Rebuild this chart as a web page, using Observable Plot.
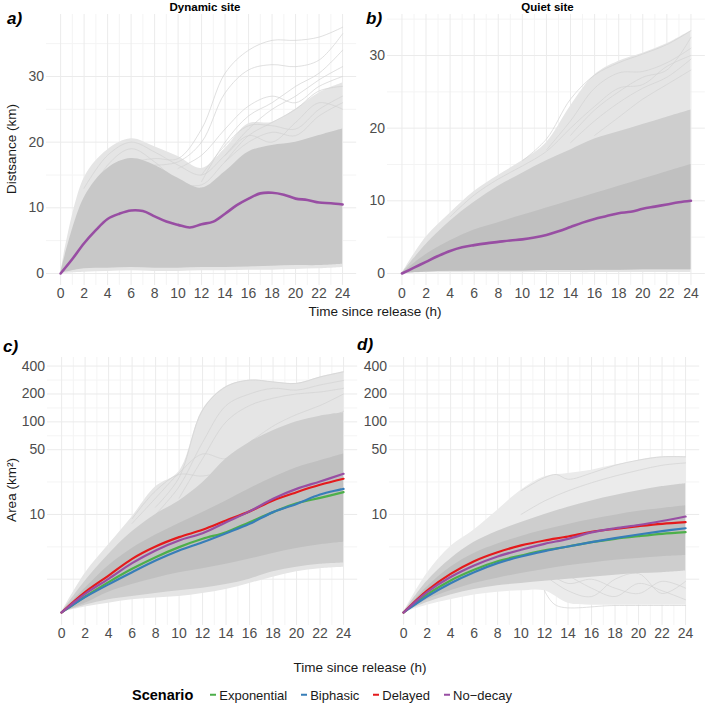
<!DOCTYPE html>
<html><head><meta charset="utf-8">
<script src="https://cdn.jsdelivr.net/npm/d3@7"></script>
<script src="https://cdn.jsdelivr.net/npm/@observablehq/plot@0.6"></script>
<style>
body{margin:0;background:#fff;font-family:"Liberation Sans",Arial,Helvetica,sans-serif;}
#fig{position:relative;width:709px;height:706px;overflow:hidden;background:#fff}
.t{position:absolute;white-space:nowrap;line-height:1;color:#1a1a1a}
</style></head><body><div id="fig"></div>
<script>
// ---------------- DATA ----------------
const hoursEven = [0,2,4,6,8,10,12,14,16,18,20,22,24];
const hoursAll = [0,1,2,3,4,5,6,7,8,9,10,11,12,13,14,15,16,17,18,19,20,21,22,23,24];
const xTickLabels = [0,2,4,6,8,10,12,14,16,18,20,22,24];
const distTicks = [0,10,20,30];
const areaTicks = [10,50,100,200,400];
const scenarios = ["Exponential","Biphasic","Delayed","No\u2212decay"];
const scenarioColors = ["#4daf4a","#377eb8","#e41a1c","#984ea3"];

// Panel a: dynamic site distance (km)
const aMean = [0,2.2,4.6,6.6,8.3,9.1,9.6,9.5,8.7,7.9,7.4,7.0,7.5,7.9,9.1,10.4,11.4,12.2,12.3,12.0,11.4,11.2,10.8,10.7,10.5];
const aOuterHi = [0,14.5,18.8,20.5,19.3,17.8,16,19,22.8,23,25,27.5,29];
const aCoreHi  = [0,11.5,16,17.5,16.5,14.5,13,15.5,18.5,19.5,20,21,22];
const aCoreLo  = [0,0.7,0.8,0.9,0.8,0.8,0.9,0.9,1.0,1.1,1.2,1.2,1.4];
const aOuterLo = [0,0.2,0.3,0.4,0.3,0.3,0.4,0.4,0.5,0.5,0.6,0.7,0.9];
const aStrays = [
  [[6,17],[8,17.5],[10,17.5],[12,22],[14,30.5],[16,34],[18,35.5],[20,35.5],[22,36],[24,37.5]],
  [[8,16.5],[10,17],[12,20],[14,27.5],[16,31],[18,31.8],[20,31.5],[22,32.5],[24,36.5]],
  [[12,14],[14,20],[16,24],[18,26],[20,28.5],[22,30.5],[24,34]],
  [[14,18],[16,22],[18,25],[20,27],[22,29.5],[24,31.5]],
  [[14,17],[16,21],[18,23],[20,25],[22,27.8],[24,28.5]],
  [[12,15],[14,19.5],[16,22.5],[18,22.5],[20,22],[22,25],[24,27]],
  [[10,16],[12,18],[14,22],[16,25.5],[18,27],[20,26],[22,28.5],[24,30]],
  [[2,13],[4,18],[6,20],[8,18.5],[10,16.5],[12,15],[14,18],[16,21],[18,20],[20,23],[22,26],[24,25]],
  [[2,10],[4,16.5],[6,19],[8,17],[10,14],[12,13.5],[14,17],[16,20],[18,21.5],[20,21],[22,24],[24,26]]
];

// Panel b: quiet site distance (km)
const bMean = [0,0.8,1.6,2.4,3.1,3.6,3.9,4.15,4.35,4.55,4.7,4.95,5.3,5.8,6.4,7.0,7.5,7.9,8.3,8.5,8.9,9.2,9.5,9.8,10.0];
const bOuterHi = [0,5,8.3,11.3,13.5,15.5,18,23,27.3,29.2,30.3,31.6,33.4];
const bCoreHi  = [0,4,7.2,9.8,12,13.8,15.5,17,18.5,19.5,20.5,21.5,22.5];
const bDenseHi = [0,2.6,4.5,6,7,8,9,10,11,12,13,14,15];
const bCoreLo  = [0,0.2,0.3,0.35,0.35,0.35,0.4,0.4,0.45,0.45,0.5,0.5,0.5];
const bOuterLo = [0,0.1,0.1,0.1,0.1,0.1,0.12,0.12,0.12,0.15,0.15,0.15,0.15];
const bStrays = [
  [[10,15.5],[12,18.5],[14,24],[16,27.3],[18,29],[20,30.2],[22,31.5],[24,33.4]],
  [[12,17],[14,21],[16,25.5],[18,27.6],[20,27.8],[22,29],[24,31]],
  [[14,19],[16,22.5],[18,25],[20,27],[22,28],[24,32.5]],
  [[14,18],[16,21],[18,23.5],[20,25.5],[22,27],[24,29.5]],
  [[16,19],[18,21.5],[20,24],[22,26],[24,28]],
  [[4,7.8],[6,10.8],[8,13],[10,14.8],[12,16.8],[14,20],[16,23],[18,25.5],[20,26],[22,28.5],[24,30]]
];

// Panel c: dynamic site area (km²), scenarios at even hours
const cExponential = [0.875,1.30,1.86,2.59,3.46,4.44,5.46,6.44,8.26,10.6,13.2,15.1,17.4];
const cBiphasic    = [0.875,1.28,1.76,2.38,3.18,4.09,5.02,6.28,7.93,10.6,13.0,16.4,18.9];
const cDelayed     = [0.875,1.45,2.19,3.32,4.51,5.69,6.83,8.6,10.8,14.2,17.4,20.9,24.3];
const cNoDecay     = [0.875,1.39,2.02,2.98,4.09,5.24,6.28,8.26,10.8,14.8,18.9,22.7,27.5];
const cOuterHi = [0.875,2.3,4.7,9.4,19.9,29,134,240,282,270,260,305,347];
const cCoreHi  = [0.875,1.9,3.7,6.5,10,14,22,40,60,80,100,115,125];
const cDenseHi = [0.875,1.6,2.8,4.3,6,8,10.5,14,19,25,32,38,45];
const cDenseLo = [0.875,1.1,1.45,1.75,2.05,2.35,2.6,2.9,3.3,3.8,4.3,4.7,5.0];
const cCoreLo  = [0.875,1.05,1.2,1.3,1.4,1.5,1.6,1.75,2.0,2.4,2.7,2.9,3.0];
const cOuterLo = [0.875,1.0,1.1,1.2,1.25,1.3,1.4,1.55,1.8,2.1,2.4,2.6,2.7];
const cStrays = [
  [[8,12],[10,25],[12,134],[14,240],[16,282],[18,270],[20,260],[22,305],[24,347]],
  [[8,10],[10,20],[12,60],[14,150],[16,200],[18,230],[20,220],[22,250],[24,280]],
  [[10,15],[12,40],[14,100],[16,150],[18,180],[20,200],[22,210],[24,230]],
  [[6,8],[8,15],[10,28],[12,45],[14,40],[16,60],[18,90],[20,120],[22,150],[24,200]],
  [[6,9],[8,18],[10,27],[12,26],[14,30],[16,40],[18,55],[20,80],[22,100],[24,130]]
];

// Panel d: quiet site area (km²)
const dExponential = [0.875,1.37,1.94,2.53,3.13,3.6,4.09,4.51,5.02,5.46,5.83,6.18,6.44];
const dBiphasic    = [0.875,1.30,1.81,2.38,2.98,3.52,4.02,4.51,5.02,5.55,6.08,6.6,7.1];
const dDelayed     = [0.875,1.51,2.28,3.13,3.91,4.63,5.24,5.78,6.5,7.0,7.48,7.93,8.26];
const dNoDecay     = [0.875,1.45,2.11,2.81,3.52,4.16,4.82,5.46,6.4,7.1,7.7,8.5,9.5];
const dOuterHi = [0.875,2.3,4.5,6.8,11.1,18.3,25.5,27.7,30.1,34.1,38.6,41.9,41.9];
const dCoreHi  = [0.875,1.9,3.3,5.0,6.6,8.2,10,12,14,16,18,20,21.5];
const dDenseHi = [0.875,1.65,2.7,3.8,4.8,5.8,6.8,7.8,8.8,9.8,10.8,11.6,12.4];
const dDenseLo = [0.875,1.2,1.5,1.8,2.05,2.3,2.55,2.8,3.0,3.2,3.35,3.5,3.6];
const dCoreLo  = [0.875,1.12,1.35,1.55,1.7,1.8,1.9,2.0,2.1,2.2,2.3,2.35,2.45];
const dOuterLo = [0.875,1.05,1.2,1.35,1.45,1.5,1.5,1.1,1.05,1.05,1.05,1.05,1.05];
const dStrays = [
  [[10,18],[12,25],[13,27],[14,24],[16,28],[18,34],[20,38.6],[22,41.9],[24,41.9]],
  [[12,1.5],[13,1.04],[18,1.04],[24,1.04]],
  [[10,10],[12,14],[14,18],[16,22],[18,26],[20,30],[22,34],[24,36]],
  [[14,2.2],[16,1.6],[18,1.3],[20,1.8],[22,1.5],[24,1.2]],
  [[12,2.5],[14,1.8],[16,2.0],[18,1.6],[20,1.4],[22,1.9],[24,1.6]],
  [[12,2.2],[14,1.5],[16,1.3],[18,2.0],[20,2.3],[22,1.4],[24,1.9]]
];

// ---------------- DRAWING ----------------
const fig = document.getElementById("fig");
const FONT = '"Liberation Sans",Arial,Helvetica,sans-serif';
const OUTER = "#e5e5e5", CORE = "#cecece", DENSE = "#c0c0c0", STRAY = "#d2d2d2";
const GRID_MAJ = "#ebebeb", GRID_MIN = "#f4f4f4";
const TICK_FS = 14;

function bandTable(lo, hi){
  return hoursEven.map((t,i)=>({t, lo:lo[i], hi:hi[i]}));
}
function strayTable(strays){
  const out=[]; strays.forEach((s,k)=>s.forEach(([t,v])=>out.push({id:k,t,v}))); return out;
}
function seriesTable(arrs){
  const out=[]; arrs.forEach((a,k)=>a.forEach((v,i)=>out.push({s:scenarios[k],t:hoursEven[i],v}))); return out;
}

function makePanel(rect, yOpts, yTicks, yMajorGrid, yMinorGrid, marks){
  const mL = 44, mB = 26;
  const w = rect.right - rect.left + mL, h = rect.bottom - rect.top + mB;
  const xMinor = hoursAll.filter(d=>d%2===1);
  const svg = Plot.plot({
    width: w, height: h, marginLeft: mL, marginRight: 0, marginTop: 0, marginBottom: mB,
    x: {domain: [-1.2, 25.2], axis: null},
    y: {...yOpts, axis: null},
    style: {background: "transparent", overflow: "visible", fontFamily: FONT, fontSize: TICK_FS + "px", color: "#4d4d4d"},
    marks: [
      Plot.ruleX(xMinor, {stroke: GRID_MIN, strokeWidth: 1}),
      Plot.ruleY(yMinorGrid, {stroke: GRID_MIN, strokeWidth: 1}),
      Plot.ruleX(xTickLabels, {stroke: GRID_MAJ, strokeWidth: 1}),
      Plot.ruleY(yMajorGrid, {stroke: GRID_MAJ, strokeWidth: 1}),
      ...marks,
      Plot.text(xTickLabels, {x: d => d, text: d => String(d), frameAnchor: "bottom", lineAnchor: "top", dy: 3, fill: "#4d4d4d", fontSize: TICK_FS}),
      Plot.text(yTicks, {y: d => d, text: d => String(d), frameAnchor: "left", textAnchor: "end", dx: -2.5, fill: "#4d4d4d", fontSize: TICK_FS})
    ]
  });
  svg.style.position = "absolute";
  svg.style.left = (rect.left - mL) + "px";
  svg.style.top = rect.top + "px";
  svg.style.maxWidth = "none";
  fig.appendChild(svg);
}

function band(lo, hi, fill){
  return Plot.areaY(bandTable(lo, hi), {x: "t", y1: "lo", y2: "hi", fill, curve: "catmull-rom", clip: true});
}
function strays(s){
  return Plot.line(strayTable(s), {x: "t", y: "v", z: "id", stroke: STRAY, strokeWidth: 0.7, curve: "catmull-rom", clip: true});
}

const rectA = {left: 45.9, right: 356.1, top: 14, bottom: 285};
const rectB = {left: 387.3, right: 705.2, top: 14, bottom: 285};
const rectC = {left: 46.9, right: 357.1, top: 357, bottom: 625};
const rectD = {left: 388.9, right: 699.1, top: 357, bottom: 625};

// a
makePanel(rectA, {domain: [-1.83, 39.44]}, distTicks, [0,10,20,30], [5,15,25,35], [
  band(aOuterLo, aOuterHi, OUTER),
  strays(aStrays),
  band(aCoreLo, aCoreHi, "#c8c8c8"),
  Plot.line(hoursAll.map((t,i)=>({t, v: aMean[i]})), {x: "t", y: "v", stroke: "#984ea3", strokeWidth: 2.6, curve: "catmull-rom"})
]);
// b
makePanel(rectB, {domain: [-1.65, 35.64]}, distTicks, [0,10,20,30], [5,15,25,35], [
  band(bOuterLo, bOuterHi, OUTER),
  strays(bStrays),
  band(bCoreLo, bCoreHi, CORE),
  band(bCoreLo, bDenseHi, DENSE),
  Plot.line(hoursAll.map((t,i)=>({t, v: bMean[i]})), {x: "t", y: "v", stroke: "#984ea3", strokeWidth: 2.6, curve: "catmull-rom"})
]);
const logY = {type: "log", domain: [0.633, 495]};
const logMajor = [2,10,50,100,200,400];
const logMinor = [4.47,22.4,70.7,141,283];
// c
makePanel(rectC, logY, areaTicks, logMajor, logMinor, [
  band(cOuterLo, cOuterHi, OUTER),
  strays(cStrays),
  band(cCoreLo, cCoreHi, CORE),
  band(cDenseLo, cDenseHi, DENSE),
  Plot.line(seriesTable([cExponential,cBiphasic,cDelayed,cNoDecay]), {x: "t", y: "v", z: "s", stroke: d => scenarioColors[scenarios.indexOf(d.s)], strokeWidth: 2.2, curve: "catmull-rom"})
]);
// d
makePanel(rectD, logY, areaTicks, logMajor, logMinor, [
  band(dOuterLo, dOuterHi, "#ebebeb"),
  strays(dStrays),
  band(dCoreLo, dCoreHi, CORE),
  band(dDenseLo, dDenseHi, DENSE),
  Plot.line(seriesTable([dExponential,dBiphasic,dDelayed,dNoDecay]), {x: "t", y: "v", z: "s", stroke: d => scenarioColors[scenarios.indexOf(d.s)], strokeWidth: 2.2, curve: "catmull-rom"})
]);

// ---------------- TEXT ----------------
function text(str, x, y, css, anchor="center", rotate=0){
  const el = document.createElement("div");
  el.className = "t";
  el.textContent = str;
  Object.assign(el.style, css);
  el.style.left = x + "px"; el.style.top = y + "px";
  const tx = anchor === "center" ? "-50%" : anchor === "end" ? "-100%" : "0";
  el.style.transform = rotate ? `translate(-50%,-50%) rotate(${rotate}deg)` : `translate(${tx},-50%)`;
  fig.appendChild(el);
  return el;
}
const tag = {fontSize: "17px", fontWeight: "bold", fontStyle: "italic", color: "#000"};
text("a)", 7, 18, tag, "start");
text("b)", 366, 18, tag, "start");
text("c)", 3, 346, tag, "start");
text("d)", 357, 344, tag, "start");
const ttl = {fontSize: "11.5px", fontWeight: "bold", color: "#000"};
text("Dynamic site", 205, 8, ttl);
text("Quiet site", 547.5, 8, ttl);
const axt = {fontSize: "13.5px", color: "#1a1a1a"};
text("Distsance (km)", 12, 149, axt, "center", -90);
text("Area (km\u00b2)", 12, 490, axt, "center", -90);
text("Time since release (h)", 375, 312, axt);
text("Time since release (h)", 360, 668, axt);

// legend
const leg = document.createElement("div");
leg.className = "t";
Object.assign(leg.style, {left: "132px", top: "695px", transform: "translate(0,-50%)", display: "flex", alignItems: "center", fontSize: "13px", color: "#1a1a1a"});
const lt = document.createElement("span");
lt.textContent = "Scenario";
Object.assign(lt.style, {fontWeight: "bold", fontSize: "14.5px", marginRight: "17px", color: "#000"});
leg.appendChild(lt);
scenarios.forEach((s,i)=>{
  const key = document.createElement("span");
  Object.assign(key.style, {display: "inline-block", width: "6px", height: "2px", background: scenarioColors[i], marginRight: "3px"});
  const lab = document.createElement("span");
  lab.textContent = s;
  lab.style.marginRight = "14px";
  leg.appendChild(key); leg.appendChild(lab);
});
fig.appendChild(leg);
</script></body></html>
